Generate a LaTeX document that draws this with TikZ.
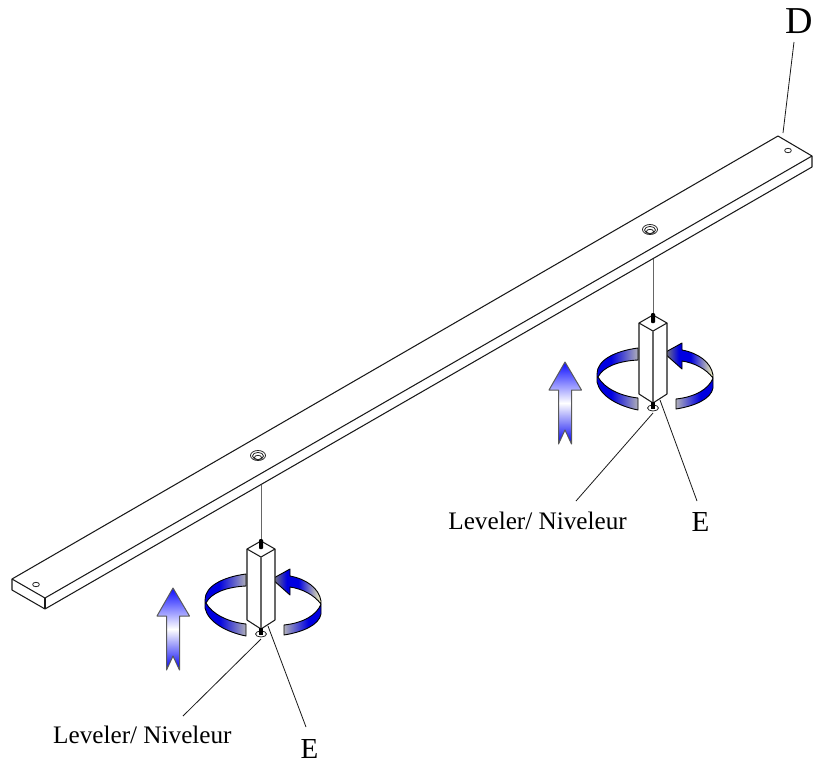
\documentclass[tikz,border=0pt]{standalone}
\usepackage{fontspec}
\setmainfont{Liberation Serif}
\definecolor{ribblue}{RGB}{0,0,225}
\definecolor{ribgrey}{RGB}{175,175,185}
\definecolor{ribtip}{RGB}{140,140,110}
\definecolor{ribpale}{RGB}{245,245,190}
\pgfdeclarehorizontalshading{ribleft}{100bp}{color(0bp)=(ribblue); color(32bp)=(ribblue); color(42bp)=(ribblue); color(75bp)=(ribgrey); color(100bp)=(ribgrey)}
\pgfdeclarehorizontalshading{ribright}{100bp}{color(0bp)=(ribgrey); color(25bp)=(ribgrey); color(58bp)=(ribblue); color(100bp)=(ribblue)}
\pgfdeclarehorizontalshading{ribhead}{100bp}{color(0bp)=(ribtip); color(25bp)=(ribtip); color(40bp)=(ribblue); color(52bp)=(ribblue); color(68bp)=(ribgrey); color(75bp)=(ribpale); color(100bp)=(ribpale)}
\begin{document}
\begin{tikzpicture}[x=1pt,y=-1pt,line join=round,
  edge/.style={draw=black!90,line width=1.05pt},
  thin edge/.style={draw=black!85,line width=0.8pt},
  leader/.style={draw=black!90,line width=0.8pt},
  ribbon/.style={draw=black,line width=0.9pt},
  upbolt/.style={draw=black!60,line width=1pt},
  lbl/.style={inner sep=0pt,font=\fontsize{25.2}{25.2}\selectfont},
  lblE/.style={inner sep=0pt,font=\fontsize{29}{29}\selectfont},
]
\useasboundingbox (0,0) rectangle (815,764);
% beam
\path[edge,fill=white] (778,136) -- (12,579) -- (12,590) -- (45,609) -- (812,167) -- (812,156) -- cycle;
\draw[edge] (12,579) -- (45,598) -- (812,156);
\draw[edge] (45,598) -- (45,609);
% end holes
\draw[thin edge] (788,150.5) ellipse (3.4 and 2.2);
\draw[thin edge] (36,584.5) ellipse (3.4 and 2.2);
% countersinks
\foreach \cx/\cy in {258/455.5,650/229.5}{
  \draw[thin edge] (\cx,\cy) ellipse (7.5 and 5);
  \draw[thin edge] (\cx,\cy+0.5) ellipse (5.5 and 3.6);
  \draw[thin edge] (\cx,\cy+2) ellipse (3.6 and 2.2);
}
% levelers and arrows
\foreach \dx/\dy in {0/0,-392/226}{
\begin{scope}[shift={(\dx,\dy)}]
  % rod
  \draw[upbolt] (653,259) -- (653,315);
  % left ribbon
  \path[ribbon,shading=ribleft]
    (638,348) .. controls (615,351) and (597,360) .. (597,374)
    -- (597,382)
    .. controls (600,396) and (618,406) .. (638,410)
    -- (638,398)
    .. controls (620,396) and (604,388) .. (598,377)
    .. controls (603,367) and (618,361) .. (638,360) -- cycle;
  % right ribbon front
  \path[ribbon,shading=ribright]
    (676,399) .. controls (695,397) and (709,389) .. (713,378)
    -- (713,388)
    .. controls (711,399) and (695,406) .. (676,409) -- cycle;
  % right ribbon back with arrowhead
  \path[ribbon,shading=ribhead]
    (664,353) -- (682,343) -- (682,350)
    .. controls (698,353) and (711,362) .. (713,375)
    -- (713,378)
    .. controls (706,369) and (695,363) .. (682,361)
    -- (682,369) -- cycle;
  % square post
  \path[edge,fill=white] (653,315) -- (639,323) -- (639,394) -- (653,403) -- (667,394) -- (667,323) -- cycle;
  \draw[edge] (639,323) -- (653,331) -- (667,323);
  \draw[edge,black!60] (653,331) -- (653,403);
  % foot
  \draw[thin edge,fill=white] (653,408) ellipse (5.5 and 3);
  \fill[black,rounded corners=1pt] (651,313) rectangle (655,323);
  \fill[black] (651,402) rectangle (655,409);
  % straight arrow
  \path[draw=black!65,line width=1pt,top color=blue!95,bottom color=blue!95!black,middle color=white]
    (565,362) -- (549,390) -- (558.5,390) -- (558.5,444) -- (565,430) -- (571.5,444) -- (571.5,390) -- (581.5,390) -- cycle;
\end{scope}
}
% labels
\node[inner sep=0pt,font=\fontsize{38}{38}\selectfont] (D) at (799,21) {D};
\coordinate (Dtop) at (794,42);
\coordinate (Dend) at (783,133);
\draw[leader] (Dtop) -- (Dend);
\node[lbl,anchor=base east] (L1) at (627,529) {Leveler/ Niveleur};
\node[lblE,anchor=base] (E1) at (700.5,531) {E};
\node[lbl,anchor=base west] (L2) at (53,743) {Leveler/ Niveleur};
\node[lblE,anchor=base] (E2) at (309.5,758) {E};
\coordinate (a1) at (653,413);
\coordinate (b1) at (660,400);
\coordinate (a2) at (261,639);
\coordinate (b2) at (268,626);
\coordinate (c1) at (576,501);
\coordinate (d1) at (697,501);
\coordinate (c2) at (183,716);
\coordinate (d2) at (306,727);
\draw[leader] (a1) -- (c1);
\draw[leader] (b1) -- (d1);
\draw[leader] (a2) -- (c2);
\draw[leader] (b2) -- (d2);
\end{tikzpicture}
\end{document}
